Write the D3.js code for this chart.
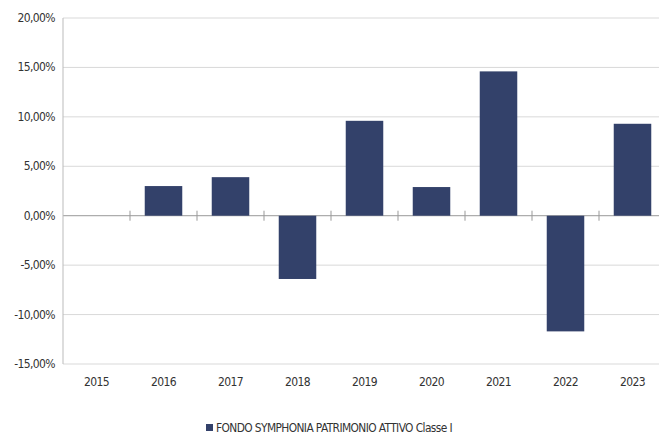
<!DOCTYPE html>
<html><head><meta charset="utf-8">
<script src="https://cdn.jsdelivr.net/npm/d3@7"></script>
<style>body{margin:0;background:#fff}text{font-family:"DejaVu Sans Condensed","DejaVu Sans",sans-serif;font-size:12px;fill:#333;letter-spacing:-0.6px}</style>
</head><body><svg id="c" width="659" height="434"></svg>
<script>
const years=["2015","2016","2017","2018","2019","2020","2021","2022","2023"];
const values=[null,3.0,3.9,-6.4,9.6,2.9,14.6,-11.7,9.3];
const yTicks=[-15,-10,-5,0,5,10,15,20];
const seriesName="FONDO SYMPHONIA PATRIMONIO ATTIVO Classe I";
const svg=d3.select("#c");
const L=63,R=659,T=18,B=364;
const x=d3.scaleBand().domain(years).range([L,L+67*9]).paddingInner(0.44).paddingOuter(0.22);
const xb=d3.scaleBand().domain(years).range([L,L+67*9]);
const y=d3.scaleLinear().domain([-15,20]).range([B,T]);
const fmt=v=>v.toFixed(2).replace(".",",")+"%";
svg.selectAll(".g").data(yTicks).join("line").attr("x1",L).attr("x2",R).attr("y1",d=>y(d)).attr("y2",d=>y(d)).attr("stroke",d=>d===0?"#999":"#d9d9d9").attr("stroke-width",1);
svg.selectAll(".yl").data(yTicks).join("text").attr("x",L-8).attr("y",d=>y(d)+4).attr("text-anchor","end").text(fmt);
svg.append("line").attr("x1",L).attr("x2",L).attr("y1",T).attr("y2",B).attr("stroke","#bbb");
svg.selectAll(".b").data(years.map((c,i)=>({c,v:values[i]})).filter(d=>d.v!==null)).join("rect")
 .attr("x",d=>x(d.c)).attr("width",x.bandwidth()).attr("y",d=>y(Math.max(0,d.v))).attr("height",d=>Math.abs(y(d.v)-y(0))).attr("fill","#33416a");
svg.selectAll(".t").data(years.slice(1)).join("line").attr("x1",d=>xb(d)).attr("x2",d=>xb(d)).attr("y1",y(0)-5).attr("y2",y(0)+5).attr("stroke","#999");
svg.selectAll(".xl").data(years).join("text").attr("x",d=>xb(d)+xb.bandwidth()/2).attr("y",B+22).attr("text-anchor","middle").text(d=>d);
svg.append("rect").attr("x",206).attr("y",424).attr("width",7).attr("height",7).attr("fill","#33416a");
svg.append("text").attr("x",216).attr("y",432).attr("textLength",236).attr("lengthAdjust","spacingAndGlyphs").text(seriesName);
</script></body></html>
